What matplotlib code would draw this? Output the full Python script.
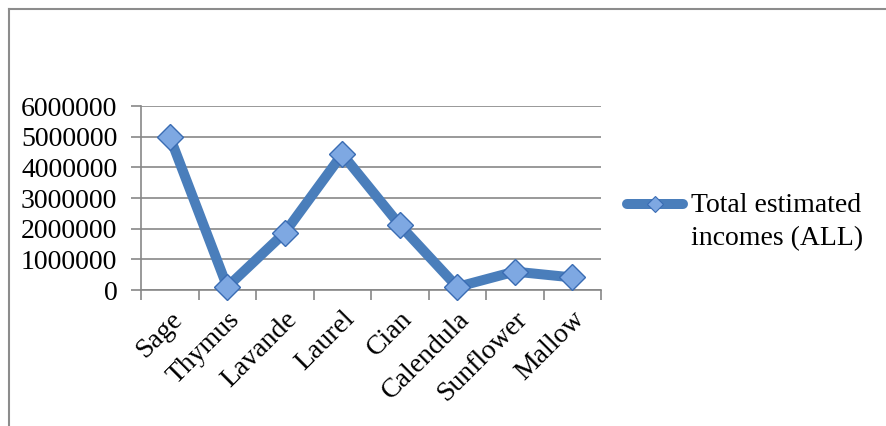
import numpy as np
import matplotlib
matplotlib.use('Agg')
import matplotlib.pyplot as plt
from matplotlib.lines import Line2D

# data
plants = ['Sage','Thymus','Lavande','Laurel','Cian','Calendula','Sunflower','Mallow']
incomes = [5000000, 100000, 1870000, 4430000, 2120000, 100000, 600000, 410000]
series_name = 'Total estimated\nincomes (ALL)'
yticks = [0, 1000000, 2000000, 3000000, 4000000, 5000000, 6000000]

plt.rcParams['font.family'] = ['Liberation Serif', 'DejaVu Serif']

line_col = '#4a7ebb'
grid_col = '#878787'
fs = 20

fig = plt.figure(figsize=(8.86, 4.26), dpi=100)
ax = fig.add_axes([141/886., 1-290/426., 460/886., 184/426.])

x = np.arange(len(plants))
ax.plot(x, incomes, color=line_col, lw=7.2, marker='D', ms=13,
        mfc='#7ea8e2', mec='#3a6cb3', mew=1.0, solid_joinstyle='miter', zorder=3,
        clip_on=False)

ax.set_xlim(-0.5, len(plants)-0.5)
ax.set_ylim(0, 6000000)
ax.set_yticks(yticks)
ax.set_yticklabels([str(v) for v in yticks], fontsize=fs)
ax.yaxis.grid(True, color=grid_col, lw=1.2)
ax.set_axisbelow(True)

# category labels between boundary ticks
ax.set_xticks(np.arange(len(plants)+1)-0.5)
ax.set_xticklabels([])
ax.set_xticks(x, minor=True)
ax.set_xticklabels(plants, minor=True, rotation=45, ha='right', va='top',
                   rotation_mode='anchor', fontsize=fs)
ax.tick_params(axis='x', which='minor', length=0, pad=12)
ax.tick_params(axis='x', which='major', length=7, width=1.2, color=grid_col, direction='out')
ax.tick_params(axis='y', length=7, width=1.2, color=grid_col, pad=10)

for s in ['top', 'right']:
    ax.spines[s].set_visible(False)
ax.spines['left'].set_color(grid_col)
ax.spines['bottom'].set_color(grid_col)
ax.spines['left'].set_linewidth(1.2)
ax.spines['bottom'].set_linewidth(1.2)

# legend drawn by hand
leg_y = 1-204/426.
fig.add_artist(Line2D([627/886., 683/886.], [leg_y, leg_y], color=line_col,
                      lw=7.2, solid_capstyle='round'))
fig.add_artist(Line2D([655/886.], [leg_y], marker='D', ms=8.5, mfc='#7ea8e2',
                      mec='#3a6cb3', mew=0.8))
fig.text(691/886., 1-193/426., series_name, fontsize=fs, ha='left', va='top',
         linespacing=1.4)

# chart area border (cut off at right and bottom)
fig.add_artist(Line2D([9/886., 9/886.], [0, 1-8.5/426.], color='#8c8c8c', lw=1.5))
fig.add_artist(Line2D([9/886., 1], [1-8.5/426., 1-8.5/426.], color='#8c8c8c', lw=1.5))

fig.savefig('out.png', dpi=100)
